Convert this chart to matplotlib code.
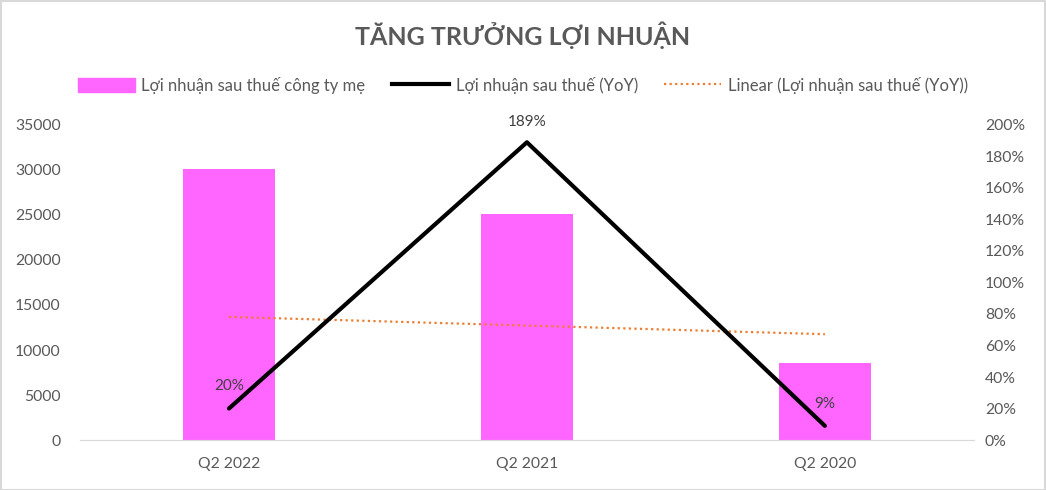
#!/usr/bin/env python3
import numpy as np
import matplotlib
matplotlib.use('Agg')
import matplotlib.pyplot as plt
from matplotlib.patches import Patch
from matplotlib.lines import Line2D

plt.rcParams['font.family'] = ['Lato', 'Noto Sans', 'DejaVu Sans']

# Data
quarters = ['Q2 2022', 'Q2 2021', 'Q2 2020']
profit = [30100, 25100, 8600]
yoy = [0.20, 1.89, 0.09]
yoy_labels = ['20%', '189%', '9%']

text_col = '#595959'
bar_col = '#ff66ff'
trend_col = '#ed7d31'

fig = plt.figure(figsize=(10.46, 4.9), dpi=100)
ax = fig.add_axes([0.0765, 0.102, 0.8545, 0.643])
ax2 = ax.twinx()

x = np.arange(len(quarters))
ax.bar(x, profit, width=0.31, color=bar_col, zorder=1)
ax.set_xlim(-0.5, 2.5)
ax.set_ylim(0, 35000)
ax.set_yticks(range(0, 35001, 5000))
ax.set_xticks(x)
ax.set_xticklabels(quarters)

# YoY line and linear trend on the right axis
ax2.plot(x, yoy, color='black', lw=3, solid_capstyle='round', zorder=3)
coef = np.polyfit(x, yoy, 1)
ax2.plot(x, np.polyval(coef, x), color=trend_col, lw=1.6, ls=(0, (1, 1.5)), zorder=2)
ax2.set_ylim(0, 2.0)
ax2.set_yticks(np.arange(0, 2.01, 0.2))
ax2.set_yticklabels([f'{int(round(v * 100))}%' for v in np.arange(0, 2.01, 0.2)])

# data labels
offsets = [(-0.0, 0.14), (0.0, 0.13), (0.0, 0.14)]
for xi, yi, lab, (dx, dy) in zip(x, yoy, yoy_labels, offsets):
    ax2.text(xi + dx, yi + dy, lab, ha='center', va='center', fontsize=11,
             color='#404040', clip_on=False)

for a in (ax, ax2):
    for s in a.spines.values():
        s.set_visible(False)
    a.tick_params(length=0, labelsize=11.3, labelcolor=text_col)
ax.spines['bottom'].set_visible(True)
ax.spines['bottom'].set_color('#d9d9d9')
ax.tick_params(axis='x', pad=12)
ax.tick_params(axis='y', pad=14)
ax2.tick_params(axis='y', pad=8)

fig.text(0.5, 0.928, 'TĂNG TRƯỞNG LỢI NHUẬN', ha='center', va='center',
         fontsize=18, fontweight='bold', color=text_col)

handles = [
    Patch(color=bar_col),
    Line2D([], [], color='black', lw=3),
    Line2D([], [], color=trend_col, lw=1.6, ls=(0, (1, 1.5))),
]
names = ['Lợi nhuận sau thuế công ty mẹ', 'Lợi nhuận sau thuế (YoY)',
         'Linear (Lợi nhuận sau thuế (YoY))']
fig.legend(handles, names, loc='center', bbox_to_anchor=(0.5, 0.826), ncol=3,
           frameon=False, fontsize=12, labelcolor=text_col, handlelength=3.4,
           handleheight=0.9, columnspacing=1.6, handletextpad=0.4)

# thin grey frame around the chart
fig.patches.append(plt.Rectangle((0.001, 0.001), 0.998, 0.996, transform=fig.transFigure,
                                 fill=False, edgecolor='#d9d9d9', lw=1.5))

fig.savefig('out.png', dpi=100)
